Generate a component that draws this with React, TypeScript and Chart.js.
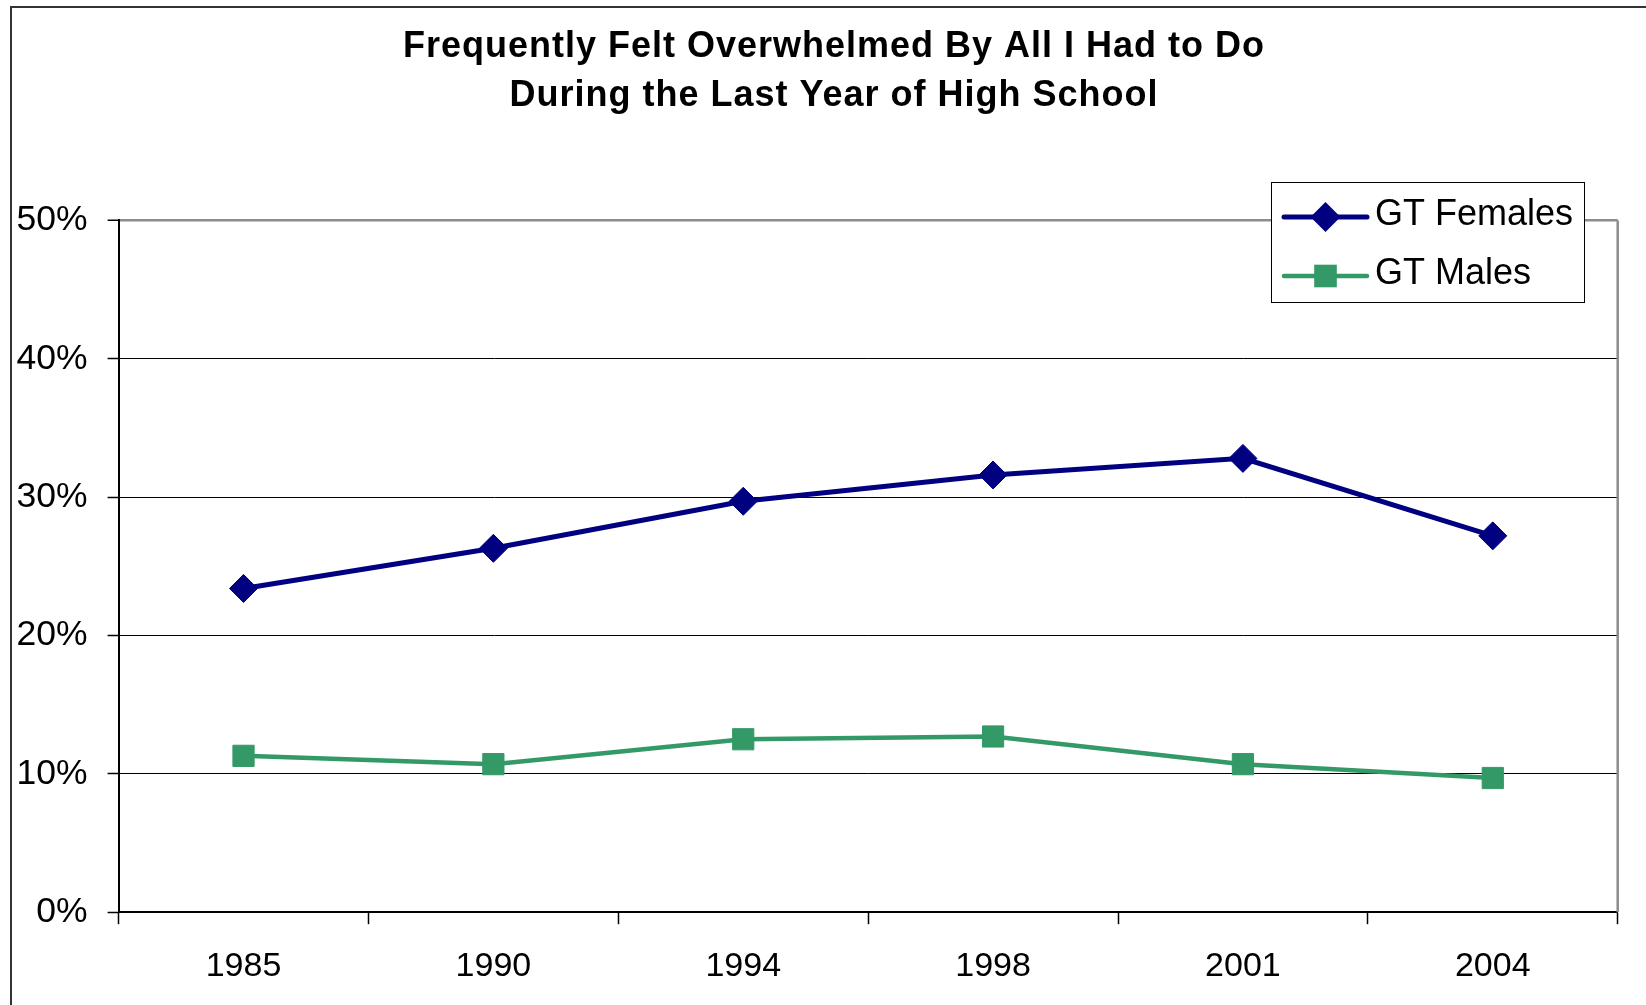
import React, { useEffect, useRef } from "react";
import { Chart, registerables } from "chart.js";

Chart.register(...registerables);

const years = ["1985", "1990", "1994", "1998", "2001", "2004"];
const gtFemales = [23.4, 26.3, 29.7, 31.6, 32.8, 27.2];
const gtMales = [11.3, 10.7, 12.5, 12.7, 10.7, 9.7];
const seriesLabels = ["GT Females", "GT Males"];
const titleLines = [
  "Frequently Felt Overwhelmed By All I Had to Do",
  "During the Last Year of High School",
];
const yMin = 0;
const yMax = 50;
const yStep = 10;

const FONT = '"Liberation Sans", Arial, Helvetica, sans-serif';
const NAVY = "#000080";
const GREEN = "#339966";

const framePlugin = {
  id: "frame",
  beforeDraw(chart: any) {
    const { ctx, width, height } = chart;
    ctx.save();
    ctx.fillStyle = "#ffffff";
    ctx.fillRect(0, 0, width, height);
    ctx.strokeStyle = "#333333";
    ctx.lineWidth = 2;
    ctx.strokeRect(11, 7, width + 50, height + 50);
    ctx.restore();
  },
  beforeDatasetsDraw(chart: any) {
    const { ctx, chartArea } = chart;
    ctx.save();
    ctx.strokeStyle = "#8c8c8c";
    ctx.lineWidth = 2.5;
    ctx.beginPath();
    ctx.moveTo(chartArea.right, chartArea.top);
    ctx.lineTo(chartArea.right, chartArea.bottom);
    ctx.stroke();
    ctx.restore();
  },
};

const titlePlugin = {
  id: "customTitle",
  afterDraw(chart: any) {
    const { ctx } = chart;
    ctx.save();
    ctx.fillStyle = "#000";
    ctx.font = `bold 36px ${FONT}`;
    ctx.textAlign = "center";
    ctx.textBaseline = "alphabetic";
    try {
      (ctx as any).letterSpacing = "1px";
    } catch (e) {}
    ctx.fillText(titleLines[0], 834, 57);
    ctx.fillText(titleLines[1], 834, 106);
    ctx.restore();
  },
};

function drawMarker(ctx: CanvasRenderingContext2D, style: string, x: number, y: number, r: number, color: string) {
  ctx.fillStyle = color;
  ctx.beginPath();
  if (style === "rectRot") {
    ctx.moveTo(x - r, y);
    ctx.lineTo(x, y - r);
    ctx.lineTo(x + r, y);
    ctx.lineTo(x, y + r);
  } else {
    const h = r * Math.SQRT1_2;
    ctx.rect(x - h, y - h, 2 * h, 2 * h);
  }
  ctx.closePath();
  ctx.fill();
}

const legendPlugin = {
  id: "boxLegend",
  afterDraw(chart: any) {
    const { ctx } = chart;
    const bx = 1271.5, by = 182.5, bw = 313, bh = 120;
    ctx.save();
    ctx.fillStyle = "#fff";
    ctx.fillRect(bx, by, bw, bh);
    ctx.strokeStyle = "#000";
    ctx.lineWidth = 1;
    ctx.strokeRect(bx, by, bw, bh);
    const rows = [217, 276];
    chart.data.datasets.forEach((ds: any, i: number) => {
      const y = rows[i];
      ctx.strokeStyle = ds.borderColor;
      ctx.lineWidth = ds.borderWidth;
      ctx.lineCap = "round";
      ctx.beginPath();
      ctx.moveTo(1284, y);
      ctx.lineTo(1367, y);
      ctx.stroke();
      drawMarker(ctx, ds.pointStyle, 1325.5, y, ds.pointRadius + 1, ds.pointBackgroundColor);
      ctx.fillStyle = "#000";
      ctx.font = `36px ${FONT}`;
      ctx.textAlign = "left";
      ctx.textBaseline = "middle";
      ctx.fillText(ds.label, 1375, y - 2);
    });
    ctx.restore();
  },
};

export default function App() {
  const canvasRef = useRef<HTMLCanvasElement | null>(null);

  useEffect(() => {
    const canvas = canvasRef.current;
    if (!canvas) return;
    const chart = new Chart(canvas, {
      type: "line",
      data: {
        labels: years,
        datasets: [
          {
            label: seriesLabels[0],
            data: gtFemales,
            borderColor: NAVY,
            backgroundColor: NAVY,
            pointBackgroundColor: NAVY,
            pointBorderColor: NAVY,
            borderWidth: 5,
            pointStyle: "rectRot",
            pointRadius: 14,
            pointBorderWidth: 1,
            tension: 0,
            fill: false,
          },
          {
            label: seriesLabels[1],
            data: gtMales,
            borderColor: GREEN,
            backgroundColor: GREEN,
            pointBackgroundColor: GREEN,
            pointBorderColor: GREEN,
            borderWidth: 4.5,
            pointStyle: "rect",
            pointRadius: 15,
            pointBorderWidth: 1,
            tension: 0,
            fill: false,
          },
        ],
      },
      options: {
        responsive: false,
        animation: false,
        devicePixelRatio: 1,
        layout: { padding: { left: 0, top: 220.4, right: 28.3, bottom: 0 } },
        plugins: {
          legend: { display: false },
          title: { display: false },
          tooltip: { enabled: false },
        },
        scales: {
          x: {
            type: "category",
            offset: true,
            afterFit: (scale: any) => {
              scale.height = 1005 - 912.2;
            },
            grid: {
              offset: true,
              drawOnChartArea: false,
              drawTicks: true,
              tickLength: 12,
              tickColor: "#000",
              tickWidth: 1.5,
            },
            border: { display: true, color: "#000", width: 2 },
            ticks: {
              color: "#000",
              font: { family: FONT, size: 34 },
              padding: 22,
              maxRotation: 0,
              autoSkip: false,
            },
          },
          y: {
            min: yMin,
            max: yMax,
            afterFit: (scale: any) => {
              scale.width = 118.6;
            },
            grid: {
              color: (c: any) => (c.tick && c.tick.value === yMax ? "#8c8c8c" : "#000"),
              lineWidth: (c: any) => (c.tick && c.tick.value === yMax ? 2.5 : 1),
              drawTicks: true,
              tickLength: 11,
              tickColor: "#000",
              tickWidth: 1.5,
            },
            border: { display: true, color: "#000", width: 2 },
            ticks: {
              stepSize: yStep,
              color: "#000",
              font: { family: FONT, size: 35.5 },
              padding: 20,
              callback: (v: any) => `${v}%`,
            },
          },
        },
      },
      plugins: [framePlugin, titlePlugin, legendPlugin],
    });
    return () => chart.destroy();
  }, []);

  return (
    <div style={{ position: "absolute", left: 0, top: 0, width: 1646, height: 1005 }}>
      <canvas ref={canvasRef} width={1646} height={1005} style={{ display: "block" }} />
    </div>
  );
}
